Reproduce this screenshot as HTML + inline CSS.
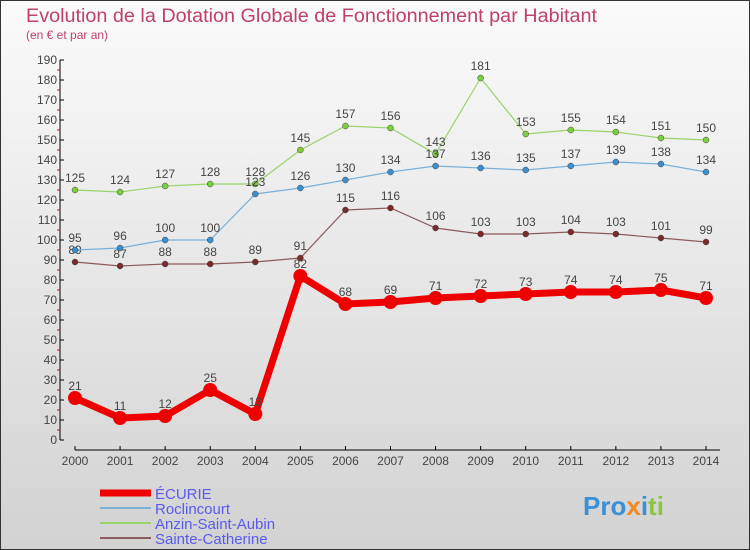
<!DOCTYPE html>
<html><head><meta charset="utf-8"><style>
body{margin:0}
svg{display:block;font-family:"Liberation Sans",sans-serif}
</style></head><body>
<svg id="c" width="750" height="550" viewBox="0 0 750 550">
<defs><linearGradient id="bg" x1="0" y1="0" x2="0" y2="1"><stop offset="0" stop-color="#fbfbfb"/><stop offset="1" stop-color="#d2d2d2"/></linearGradient></defs>
<rect x="0.5" y="0.5" width="749" height="549" fill="url(#bg)" stroke="#333"/>
<text x="26" y="22" font-size="19" fill="#c0406b" textLength="571" lengthAdjust="spacingAndGlyphs">Evolution de la Dotation Globale de Fonctionnement par Habitant</text>
<text x="26" y="39" font-size="12" fill="#c0406b">(en € et par an)</text>
<g id="axes"></g>
<g id="series"></g>
<g id="legend"></g>
<text x="583" y="515" font-size="26" font-weight="bold"><tspan fill="#3a8fd6">Pro</tspan><tspan fill="#f08a1c">x</tspan><tspan fill="#3a8fd6">i</tspan><tspan fill="#8cc63f">ti</tspan></text>
</svg>
<script>
const years=[2000,2001,2002,2003,2004,2005,2006,2007,2008,2009,2010,2011,2012,2013,2014];
const ecurie=[21,11,12,25,13,82,68,69,71,72,73,74,74,75,71];
const roclincourt=[95,96,100,100,123,126,130,134,137,136,135,137,139,138,134];
const anzin=[125,124,127,128,128,145,157,156,143,181,153,155,154,151,150];
const sainteCatherine=[89,87,88,88,89,91,115,116,106,103,103,104,103,101,99];
const yTicks=[0,10,20,30,40,50,60,70,80,90,100,110,120,130,140,150,160,170,180,190];
const NS="http://www.w3.org/2000/svg";
const xS=i=>75+i*(706-75)/(years.length-1);
const yS=v=>440-v*2;
function mk(tag,attrs,parent,txt){const e=document.createElementNS(NS,tag);for(const k in attrs)e.setAttribute(k,attrs[k]);if(txt!==undefined)e.textContent=txt;parent.appendChild(e);return e;}
const ax=document.getElementById('axes');
let yl=mk('line',{x1:60,y1:60,x2:60,y2:440,stroke:'#000'},ax);


yTicks.forEach(v=>{
  mk('line',{x1:60,y1:yS(v),x2:64,y2:yS(v),stroke:'#000'},ax);
  if(v<190)mk('line',{x1:57,y1:yS(v+5),x2:60,y2:yS(v+5),stroke:'#e00'},ax);
  const t=mk('text',{x:57,y:yS(v)+4,'font-size':12,'text-anchor':'end',fill:'#444'},ax,v);
  
  
});
let xl=mk('line',{x1:75,y1:450,x2:720,y2:450,stroke:'#000'},ax);


years.forEach((y,i)=>{
  mk('line',{x1:xS(i),y1:446,x2:xS(i),y2:450,stroke:'#000'},ax);
  const t=mk('text',{x:xS(i),y:465,'font-size':12,'text-anchor':'middle',fill:'#444'},ax,y);
  
  
});
const sg=document.getElementById('series');
const series=[
 {name:'sainte-catherine',data:sainteCatherine,color:'#7a2a2a',w:1.2,r:3,lc:'#8b5a5a'},
 {name:'anzin-saint-aubin',data:anzin,color:'#7ccf3c',w:1.2,r:3,lc:'#9ad36a'},
 {name:'roclincourt',data:roclincourt,color:'#3a8fd0',w:1.2,r:3,lc:'#7ab0d8'},
 {name:'ecurie',data:ecurie,color:'#ee0000',w:7,r:7,lc:'#ee0000'}];
series.forEach(s=>{
  const g=mk('g',{},sg);
  
  
  const p=mk('polyline',{points:s.data.map((v,i)=>xS(i)+','+yS(v)).join(' '),fill:'none',stroke:s.lc,'stroke-width':s.w},g);
  
  
  s.data.forEach((v,i)=>{
    const c=mk('circle',{cx:xS(i),cy:yS(v),r:s.r,fill:s.color,stroke:s.r>4?'none':'#444','stroke-width':0.5},g);
    
    
    const t=mk('text',{x:xS(i),y:yS(v)-8,'font-size':12,'text-anchor':'middle',fill:'#444'},g,v);
    
    
  });
});
const lg=document.getElementById('legend');
const leg=[['ÉCURIE','#ee0000',7],['Roclincourt','#7ab0d8',2],['Anzin-Saint-Aubin','#9ad36a',2],['Sainte-Catherine','#8b5a5a',2]];
leg.forEach((l,i)=>{
  const y=493+i*15;
  const g=mk('g',{},lg);
  
  
  mk('line',{x1:100,y1:y,x2:151,y2:y,stroke:l[1],'stroke-width':l[2]},g);
  mk('text',{x:155,y:y+6,'font-size':15,fill:'#5a5aee'},g,l[0]);
});
</script>
</body></html>
